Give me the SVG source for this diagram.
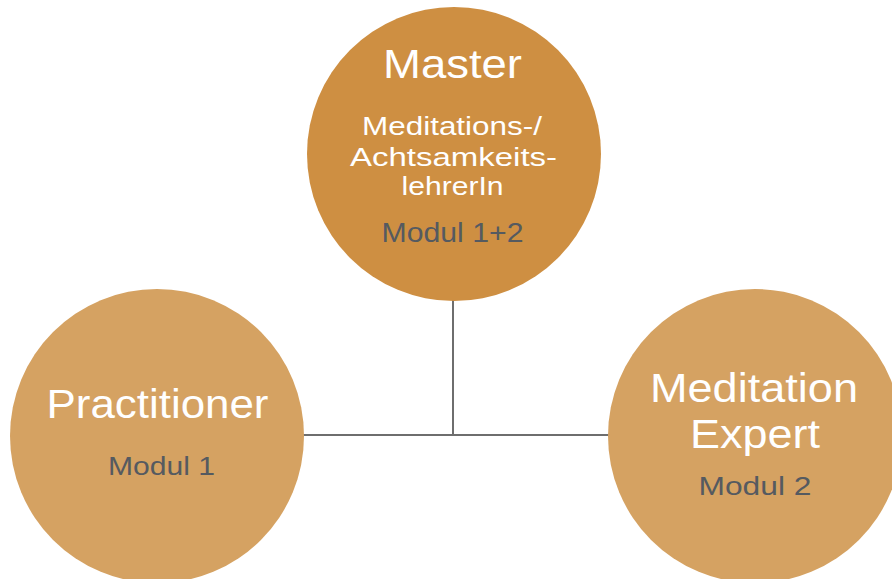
<svg xmlns="http://www.w3.org/2000/svg" width="892" height="579" viewBox="0 0 892 579">
<style>
text{font-family:"Liberation Sans",Arial,sans-serif;text-anchor:middle}
.t{fill:#ffffff}
.m{fill:#555a60}
.c1{fill:#ce8f42}
.c2{fill:#d5a262}
.ln{stroke:#6e6e6e;stroke-width:2;fill:none}
</style>
<rect width="892" height="579" fill="#ffffff"/>
<g id="connectors">
<line class="ln" x1="453" y1="300" x2="453" y2="435"/>
<line class="ln" x1="303" y1="435" x2="609" y2="435"/>
</g>
<g id="master">
<circle class="c1" cx="454" cy="154" r="147"/>
<text class="t" x="452.5" y="78" font-size="40" textLength="139" lengthAdjust="spacingAndGlyphs">Master</text>
<text class="t" x="452" y="135" font-size="25" textLength="180" lengthAdjust="spacingAndGlyphs">Meditations-/</text>
<text class="t" x="453.5" y="166" font-size="25" textLength="207" lengthAdjust="spacingAndGlyphs">Achtsamkeits-</text>
<text class="t" x="452.5" y="195" font-size="25" textLength="102" lengthAdjust="spacingAndGlyphs">lehrerIn</text>
<text class="m" x="452.5" y="242" font-size="27" textLength="142" lengthAdjust="spacingAndGlyphs">Modul 1+2</text>
</g>
<g id="practitioner">
<circle class="c2" cx="157" cy="436" r="147"/>
<text class="t" x="157.5" y="418" font-size="40" textLength="222" lengthAdjust="spacingAndGlyphs">Practitioner</text>
<text class="m" x="161.5" y="475" font-size="25.5" textLength="107" lengthAdjust="spacingAndGlyphs">Modul 1</text>
</g>
<g id="expert">
<circle class="c2" cx="755" cy="436" r="147"/>
<text class="t" x="754" y="402" font-size="40" textLength="208" lengthAdjust="spacingAndGlyphs">Meditation</text>
<text class="t" x="755" y="448" font-size="40" textLength="130" lengthAdjust="spacingAndGlyphs">Expert</text>
<text class="m" x="755" y="495" font-size="25.5" textLength="113" lengthAdjust="spacingAndGlyphs">Modul 2</text>
</g>
</svg>
